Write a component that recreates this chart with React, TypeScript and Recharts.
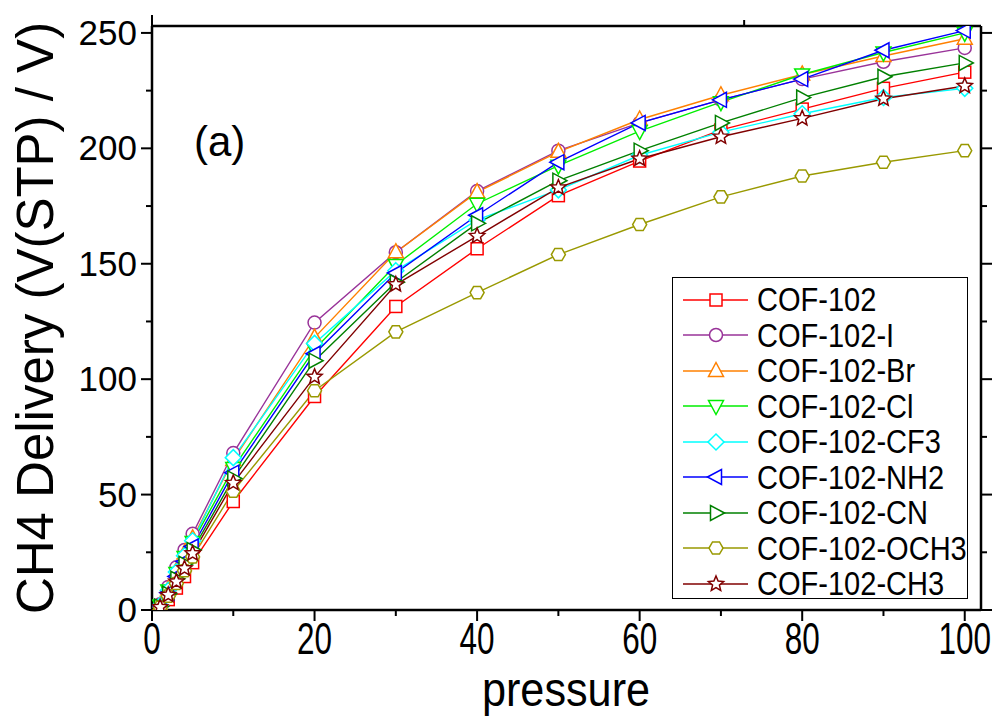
import React from 'react'
import { LineChart, Line, XAxis, YAxis, Legend } from 'recharts'

// pressure points (x)
const pressure = [1, 2, 3, 4, 5, 10, 20, 30, 40, 50, 60, 70, 80, 90, 100]

// CH4 delivery per material
const cof102 = [0.8, 4.5, 9.5, 14.5, 20.5, 47, 92.5, 131.5, 156.5, 179.5, 194.5, 208, 217, 226, 233]
const cof102I = [2.5, 10, 18.5, 26, 33, 68, 124.5, 155, 181.5, 199, 211, 221, 230, 237.5, 243.5]
const cof102Br = [2, 9, 17, 24.5, 31, 65, 118, 155, 181, 198.5, 212.5, 223, 232, 240, 247.5]
const cof102Cl = [2, 8.5, 16, 23, 29.5, 61.5, 113, 149.5, 176, 192.5, 207.5, 220, 232, 241.5, 250]
const cof102CF3 = [2, 8.5, 16.5, 23.5, 30, 66, 115.5, 147, 169, 182, 197, 207, 215, 222, 226]
const cof102NH2 = [1.5, 7.5, 14.5, 21, 27.5, 59.5, 111, 146, 171, 194, 211, 221, 230, 242.5, 251]
const cof102CN = [1.5, 7, 13.5, 20, 26, 57, 108, 142, 167.5, 186, 199, 211, 222, 231, 237]
const cof102OCH3 = [1.2, 6, 11.5, 17, 23, 51.5, 95, 120.5, 137.5, 154, 167, 179, 188, 194, 199]
const cof102CH3 = [1.2, 6.5, 12.3, 18, 24.5, 55, 101, 141, 162, 183, 195.5, 205, 213, 221.5, 227]

const xTicks = [0, 10, 20, 30, 40, 50, 60, 70, 80, 90, 100]
const yTicks = [0, 25, 50, 75, 100, 125, 150, 175, 200, 225, 250]

const series = [
  { key: 's0', name: 'COF-102', values: cof102, color: '#ff0000', shape: 'square' },
  { key: 's1', name: 'COF-102-I', values: cof102I, color: '#993399', shape: 'circle' },
  { key: 's2', name: 'COF-102-Br', values: cof102Br, color: '#ff8000', shape: 'up' },
  { key: 's3', name: 'COF-102-Cl', values: cof102Cl, color: '#00ee00', shape: 'down' },
  { key: 's4', name: 'COF-102-CF3', values: cof102CF3, color: '#00ffff', shape: 'diamond' },
  { key: 's5', name: 'COF-102-NH2', values: cof102NH2, color: '#0000ff', shape: 'left' },
  { key: 's6', name: 'COF-102-CN', values: cof102CN, color: '#008000', shape: 'right' },
  { key: 's7', name: 'COF-102-OCH3', values: cof102OCH3, color: '#999900', shape: 'hexagon' },
  { key: 's8', name: 'COF-102-CH3', values: cof102CH3, color: '#800000', shape: 'star' },
]

const data = pressure.map((p, i) => {
  const row: any = { p }
  series.forEach(s => { row[s.key] = s.values[i] })
  return row
})

const FONT = '"Liberation Sans", Arial, sans-serif'

// draw a marker shape centred at cx, cy
const Marker = ({ shape, cx, cy, color }: any) => {
  const common = { fill: '#fff', stroke: color, strokeWidth: 1.5 }
  const pts = (arr: number[][]) => arr.map(p => `${cx + p[0]},${cy + p[1]}`).join(' ')
  switch (shape) {
    case 'square':
      return <rect x={cx - 6} y={cy - 6} width={12} height={12} {...common} />
    case 'circle':
      return <circle cx={cx} cy={cy} r={6.5} {...common} />
    case 'up':
      return <polygon points={pts([[0, -8.5], [7.5, 5.5], [-7.5, 5.5]])} {...common} />
    case 'down':
      return <polygon points={pts([[0, 8.5], [7.5, -5.5], [-7.5, -5.5]])} {...common} />
    case 'diamond':
      return <polygon points={pts([[0, -8], [8, 0], [0, 8], [-8, 0]])} {...common} />
    case 'left':
      return <polygon points={pts([[-8.5, 0], [5.5, -7.5], [5.5, 7.5]])} {...common} />
    case 'right':
      return <polygon points={pts([[8.5, 0], [-5.5, -7.5], [-5.5, 7.5]])} {...common} />
    case 'hexagon': {
      const h = []
      for (let k = 0; k < 6; k++) {
        const a = (Math.PI / 3) * k
        h.push([7 * Math.cos(a), 7 * Math.sin(a)])
      }
      return <polygon points={pts(h)} {...common} />
    }
    case 'star': {
      const st = []
      for (let k = 0; k < 10; k++) {
        const r = k % 2 === 0 ? 8 : 3.6
        const a = -Math.PI / 2 + (Math.PI / 5) * k
        st.push([r * Math.cos(a), r * Math.sin(a)])
      }
      return <polygon points={pts(st)} {...common} />
    }
    default:
      return null
  }
}

const makeDot = (shape: string, color: string) => (props: any) => {
  const { cx, cy, index } = props
  if (cx == null || cy == null) return <g key={`d-${index}`} />
  return (
    <g key={`d-${index}`}>
      <Marker shape={shape} cx={cx} cy={cy} color={color} />
    </g>
  )
}

// axis ticks: major ones longer, labels only on bottom / left
const BottomTick = ({ x, y, payload }: any) => {
  const major = payload.value % 20 === 0
  return (
    <g>
      <line x1={x} y1={y} x2={x} y2={y + (major ? 11 : 6)} stroke="#000" strokeWidth={2} />
      {major && (
        <text
          transform={`translate(${x},${y + 44}) scale(0.7,1)`}
          textAnchor="middle"
          fontSize={45}
          fontFamily={FONT}
          fill="#000"
        >
          {payload.value}
        </text>
      )}
    </g>
  )
}

const LeftTick = ({ x, y, payload }: any) => {
  const major = payload.value % 50 === 0
  return (
    <g>
      <line x1={x - (major ? 11 : 6)} y1={y} x2={x} y2={y} stroke="#000" strokeWidth={2} />
      {major && (
        <text x={x - 15} y={y + 12} textAnchor="end" fontSize={35} fontFamily={FONT} fill="#000">
          {payload.value}
        </text>
      )}
    </g>
  )
}

const TopTick = ({ x, y, payload }: any) => {
  const major = payload.value % 20 === 0
  return <line x1={x} y1={y} x2={x} y2={y - (major ? 11 : 6)} stroke="#000" strokeWidth={2} />
}

const RightTick = ({ x, y, payload }: any) => {
  const major = payload.value % 50 === 0
  return <line x1={x} y1={y} x2={x + (major ? 11 : 6)} y2={y} stroke="#000" strokeWidth={2} />
}

const LegendBox = () => (
  <div
    style={{
      border: '1.2px solid #000',
      background: '#fff',
      width: 296,
      height: 322,
      boxSizing: 'border-box',
      paddingTop: 4,
    }}
  >
    {series.map(s => (
      <div key={s.key} style={{ display: 'flex', alignItems: 'center', height: 35.5 }}>
        <svg width={84} height={30} style={{ flex: 'none' }}>
          <line x1={10} y1={15} x2={75} y2={15} stroke={s.color} strokeWidth={1.5} />
          <Marker shape={s.shape} cx={43} cy={15} color={s.color} />
        </svg>
        <span
          style={{
            fontFamily: FONT,
            fontSize: 33,
            color: '#000',
            whiteSpace: 'nowrap',
            display: 'inline-block',
            transform: 'scaleX(0.88)',
            transformOrigin: 'left center',
            lineHeight: 1,
          }}
        >
          {s.name}
        </span>
      </div>
    ))}
  </div>
)

const App = () => {
  return (
    <div style={{ position: 'absolute', left: 0, top: 0, width: 997, height: 717, background: '#fff' }}>
      <LineChart width={997} height={717} data={data} margin={{ top: 0, right: 0, bottom: 0, left: 0 }}>
        <XAxis
          xAxisId="b"
          dataKey="p"
          type="number"
          domain={[0, 102]}
          ticks={xTicks}
          allowDataOverflow
          height={107}
          tickLine={false}
          tickSize={0}
          tickMargin={0}
          tick={<BottomTick />}
          axisLine={{ stroke: '#000', strokeWidth: 2.5 }}
          interval={0}
        />
        <XAxis
          xAxisId="t"
          orientation="top"
          type="number"
          domain={[0, 102]}
          ticks={xTicks}
          allowDataOverflow
          height={26}
          tickLine={false}
          tickSize={0}
          tickMargin={0}
          tick={<TopTick />}
          axisLine={{ stroke: '#000', strokeWidth: 2.5 }}
          interval={0}
        />
        <YAxis
          yAxisId="l"
          type="number"
          domain={[0, 253]}
          ticks={yTicks}
          allowDataOverflow
          width={152}
          tickLine={false}
          tickSize={0}
          tickMargin={0}
          tick={<LeftTick />}
          axisLine={{ stroke: '#000', strokeWidth: 2.5 }}
          interval={0}
        />
        <YAxis
          yAxisId="r"
          orientation="right"
          type="number"
          domain={[0, 253]}
          ticks={yTicks}
          allowDataOverflow
          width={16}
          tickLine={false}
          tickSize={0}
          tickMargin={0}
          tick={<RightTick />}
          axisLine={{ stroke: '#000', strokeWidth: 2.5 }}
          interval={0}
        />
        <Legend
          layout="horizontal"
          verticalAlign="middle"
          align="center"
          content={() => <LegendBox />}
          wrapperStyle={{ left: 672, top: 277, width: 298, height: 324 }}
        />
        {series.map(s => (
          <Line
            key={s.key}
            xAxisId="b"
            yAxisId="l"
            dataKey={s.key}
            name={s.name}
            stroke={s.color}
            strokeWidth={1.4}
            dot={makeDot(s.shape, s.color)}
            activeDot={false}
            isAnimationActive={false}
          />
        ))}
      </LineChart>

      {/* panel label */}
      <div style={{ position: 'absolute', left: 194, top: 118, fontFamily: FONT, fontSize: 42, color: '#000' }}>
        (a)
      </div>

      {/* axis titles */}
      <div
        style={{
          position: 'absolute',
          left: 35,
          top: 318,
          transform: 'translate(-50%, -50%) rotate(-90deg)',
          fontFamily: FONT,
          fontSize: 51,
          whiteSpace: 'nowrap',
          color: '#000',
        }}
      >
        CH4 Delivery (V(STP) / V)
      </div>
      <div
        style={{
          position: 'absolute',
          left: 566,
          top: 690,
          transform: 'translate(-50%, -50%) scaleX(0.9)',
          fontFamily: FONT,
          fontSize: 48,
          lineHeight: 1,
          whiteSpace: 'nowrap',
          color: '#000',
        }}
      >
        pressure
      </div>
    </div>
  )
}

export default App
